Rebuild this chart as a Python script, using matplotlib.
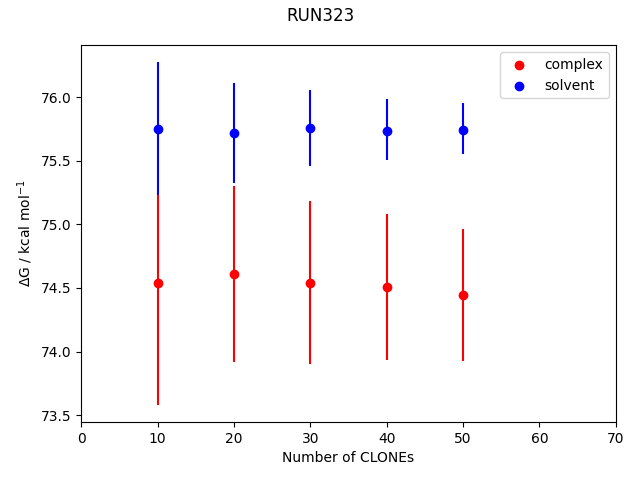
import numpy as np
import matplotlib
matplotlib.use("Agg")
import matplotlib.pyplot as plt

clones = [10, 20, 30, 40, 50]

complex_dg = [74.535, 74.606, 74.535, 74.506, 74.441]
complex_lo = [73.581, 73.919, 73.903, 73.935, 73.927]
complex_hi = [75.230, 75.300, 75.182, 75.080, 74.962]

solvent_dg = [75.748, 75.715, 75.754, 75.738, 75.746]
solvent_lo = [75.230, 75.326, 75.460, 75.507, 75.554]
solvent_hi = [76.275, 76.110, 76.055, 75.984, 75.953]


def err(mid, lo, hi):
    mid, lo, hi = np.array(mid), np.array(lo), np.array(hi)
    return [mid - lo, hi - mid]


fig, ax = plt.subplots(figsize=(6.4, 4.8), dpi=100)

ax.errorbar(clones, complex_dg, yerr=err(complex_dg, complex_lo, complex_hi), fmt="none", ecolor="red")
ax.scatter(clones, complex_dg, color="red", label="complex")
ax.errorbar(clones, solvent_dg, yerr=err(solvent_dg, solvent_lo, solvent_hi), fmt="none", ecolor="blue")
ax.scatter(clones, solvent_dg, color="blue", label="solvent")

ax.set_xlim(0, 70)
ax.set_xlabel("Number of CLONEs")
ax.set_ylabel(r"$\Delta$G / kcal mol$^{-1}$")
ax.legend(loc="upper right")
fig.suptitle("RUN323", y=0.985)

fig.subplots_adjust(left=0.127, right=0.962, bottom=0.121, top=0.906)
plt.savefig("out.png", dpi=100)
